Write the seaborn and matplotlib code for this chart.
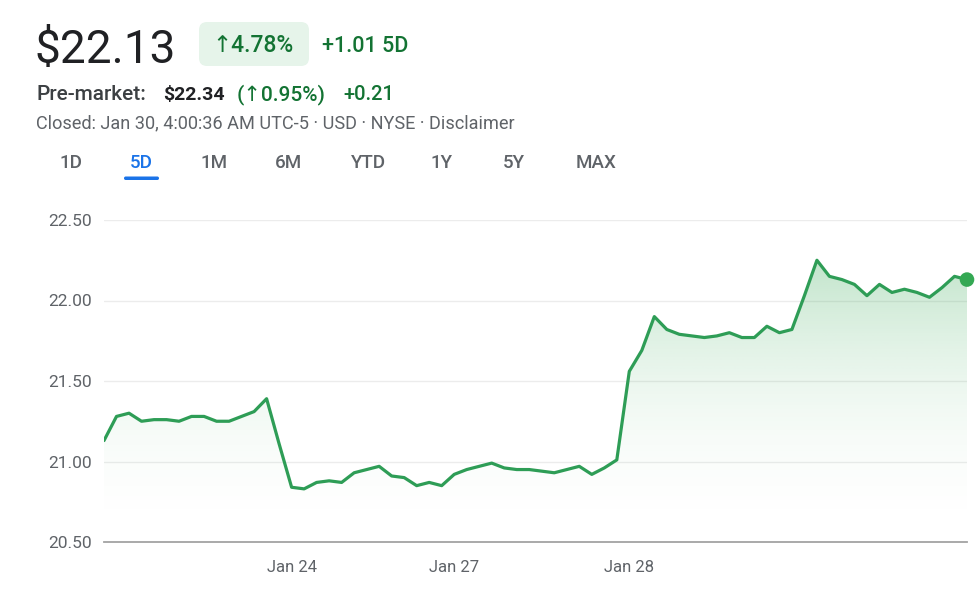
import numpy as np
import pandas as pd
import matplotlib
matplotlib.use("Agg")
import matplotlib.pyplot as plt
import seaborn as sns
from matplotlib.patches import FancyBboxPatch
from matplotlib.transforms import IdentityTransform
from matplotlib.colors import to_rgb

# ---------------- data ----------------
prices = [21.13, 21.28, 21.30, 21.25, 21.26, 21.26, 21.25, 21.28, 21.28, 21.25,
          21.25, 21.28, 21.31, 21.39, 21.11, 20.84, 20.83, 20.87, 20.88, 20.87,
          20.93, 20.95, 20.97, 20.91, 20.90, 20.85, 20.87, 20.85, 20.92, 20.95,
          20.97, 20.99, 20.96, 20.95, 20.95, 20.94, 20.93, 20.95, 20.97, 20.92,
          20.96, 21.01, 21.56, 21.69, 21.90, 21.82, 21.79, 21.78, 21.77, 21.78,
          21.80, 21.77, 21.77, 21.84, 21.80, 21.82, 22.03, 22.25, 22.15, 22.13,
          22.10, 22.03, 22.10, 22.05, 22.07, 22.05, 22.02, 22.08, 22.15, 22.13]
x_tick_idx = [15, 28, 42]
x_tick_labels = ["Jan 24", "Jan 27", "Jan 28"]
y_ticks = [20.5, 21.0, 21.5, 22.0, 22.5]
y_tick_labels = ["20.50", "21.00", "21.50", "22.00", "22.50"]
tabs = ["1D", "5D", "1M", "6M", "YTD", "1Y", "5Y", "MAX"]
price_text = "$22.13"
change_pct = "↑4.78%"
change_abs = "+1.01 5D"
pre_label = "Pre-market:"
pre_price = "$22.34"
pre_pct = "(↑0.95%)"
pre_abs = "+0.21"
closed_text = "Closed: Jan 30, 4:00:36 AM UTC-5 · USD · NYSE · Disclaimer"

# ---------------- layout / style ----------------
W, H = 978, 591
tab_x = [71, 141, 214, 288, 369, 442, 514, 596]
LINE = "#2e9d56"
GREEN_TXT = "#137333"
GRAY = "#5f6368"

sns.set_style("white")
plt.rcParams["font.family"] = ["Roboto", "DejaVu Sans"]

fig = plt.figure(figsize=(W / 100, H / 100), dpi=100)
ax = fig.add_axes([104 / W, (H - 542) / H, (967 - 104) / W, (542 - 220) / H])

df = pd.DataFrame({"t": np.arange(len(prices)), "price": prices})

# gridlines
for v in y_ticks[1:]:
    ax.axhline(v, color="#ececec", lw=1, zorder=0)

# gradient fill under the line
poly = ax.fill_between(df["t"], df["price"], 20.5, color="none", lw=0)
vals = np.linspace(20.5, 22.5, 300)
alpha = np.clip(0.30 * ((vals - 20.5) / 1.75) ** 2, 0, 0.35)
rgb = to_rgb("#34a853")
img = np.zeros((300, 2, 4))
img[:, :, 0], img[:, :, 1], img[:, :, 2] = rgb
img[:, :, 3] = alpha[:, None]
im = ax.imshow(img, origin="lower", aspect="auto",
               extent=[0, len(prices) - 1, 20.5, 22.5], zorder=1,
               interpolation="bilinear")
im.set_clip_path(poly.get_paths()[0], ax.transData)

sns.lineplot(data=df, x="t", y="price", ax=ax, color=LINE, linewidth=2.3,
             zorder=3)
ax.scatter([df["t"].iloc[-1]], [df["price"].iloc[-1]], s=110, color="#34a853",
           zorder=5, clip_on=False, edgecolor="none")

ax.set_xlim(0, len(prices) - 1)
ax.set_ylim(20.5, 22.5)
ax.set_xlabel("")
ax.set_ylabel("")
for s in ["top", "right", "left"]:
    ax.spines[s].set_visible(False)
ax.spines["bottom"].set_color("#a3a3a3")
ax.spines["bottom"].set_linewidth(1.3)
ax.set_yticks(y_ticks, y_tick_labels)
ax.set_xticks(x_tick_idx, x_tick_labels)
ax.tick_params(axis="y", length=0, pad=9, labelsize=12.5, labelcolor=GRAY)
ax.tick_params(axis="x", length=5, width=2, color=GRAY, pad=8,
               labelsize=12, labelcolor=GRAY, direction="out")


def fx(x):
    return x / W


def fy(y):
    return 1 - y / H


# header
fig.text(fx(35), fy(63), price_text, fontsize=33, color="#202124", va="baseline")
badge = FancyBboxPatch((199, H - 66), 110, 44,
                       boxstyle="round,pad=0,rounding_size=8",
                       transform=IdentityTransform(), facecolor="#e6f4ea",
                       edgecolor="none")
fig.patches.append(badge)
fig.text(fx(212), fy(52), change_pct, fontsize=16.5, color=GREEN_TXT,
         va="baseline", fontweight="medium")
fig.text(fx(322), fy(52), change_abs, fontsize=15.5, color=GREEN_TXT,
         va="baseline", fontweight="medium")

fig.text(fx(36), fy(100), pre_label, fontsize=15, color="#3c4043",
         va="baseline", fontweight="medium")
fig.text(fx(163), fy(100), pre_price, fontsize=14, color="#202124",
         va="baseline", fontweight="bold")
fig.text(fx(237), fy(100), pre_pct, fontsize=15, color=GREEN_TXT,
         va="baseline", fontweight="medium")
fig.text(fx(343), fy(100), pre_abs, fontsize=14.5, color=GREEN_TXT,
         va="baseline", fontweight="medium")
fig.text(fx(36), fy(128), closed_text, fontsize=13.1, color=GRAY, va="baseline")

for lab, xc in zip(tabs, tab_x):
    col = "#1a73e8" if lab == "5D" else GRAY
    fig.text(fx(xc), fy(168), lab, fontsize=13.5, color=col, va="baseline",
             ha="center", fontweight="medium")
underline = FancyBboxPatch((124, H - 180), 35, 3.5,
                           boxstyle="round,pad=0,rounding_size=1.7",
                           transform=IdentityTransform(), facecolor="#1a73e8",
                           edgecolor="none")
fig.patches.append(underline)

fig.savefig("out.png", dpi=100, facecolor="white")
